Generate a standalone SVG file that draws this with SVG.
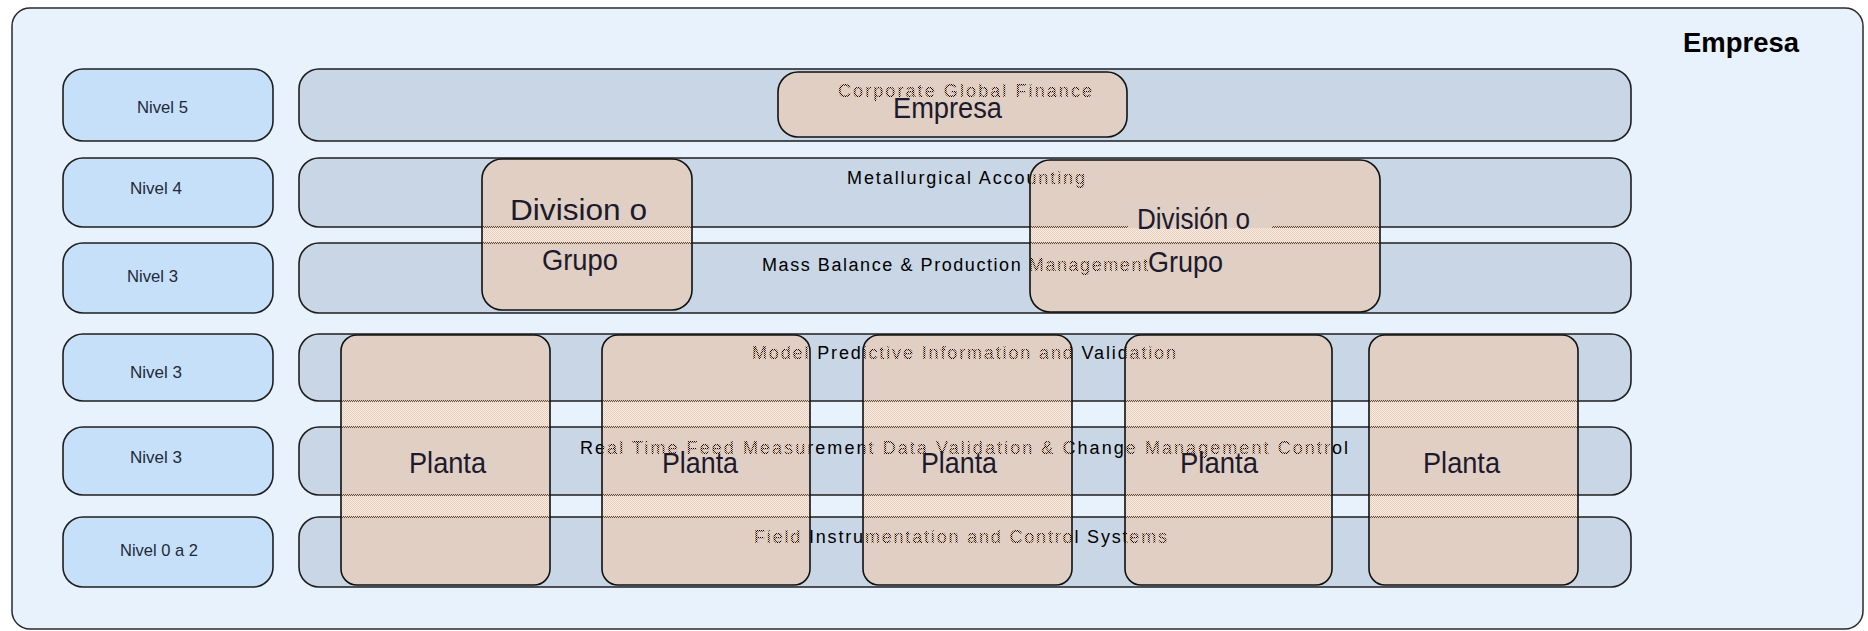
<svg xmlns="http://www.w3.org/2000/svg" width="1868" height="631" viewBox="0 0 1868 631">
  <defs>
    <!-- half-tone fill: peach on every other pixel, whatever lies below shows through the rest -->
    <pattern id="dither" width="2" height="2" patternUnits="userSpaceOnUse">
      <rect x="0" y="0" width="1" height="1" fill="#f8c8a2"/>
      <rect x="1" y="1" width="1" height="1" fill="#f8c8a2"/>
    </pattern>
  </defs>
  <style>
    .frame{fill:#e8f2fc;stroke:#2a2a2a;stroke-width:1.5}
    .nivel{fill:#c6e0fa;stroke:#1e1e1e;stroke-width:1.6}
    .band{fill:#c8d6e5;stroke:#1e1e1e;stroke-width:1.6}
    .unit{fill:url(#dither);stroke:#111;stroke-width:1.6}
    .nt{font-family:"Liberation Sans",Arial,sans-serif;font-size:17px;fill:#1f2a38}
    .bt{font-family:"Liberation Sans",Arial,sans-serif;font-size:18px;fill:#000}
    .ut{font-family:"Liberation Sans",Arial,sans-serif;font-size:30px;fill:#1c1a2c}
    .title{font-family:"Liberation Sans",Arial,sans-serif;font-size:28px;font-weight:bold;fill:#000}
  </style>

  <rect x="0" y="0" width="1868" height="631" fill="#ffffff"/>

  <!-- enterprise frame -->
  <g id="empresa-frame">
    <rect class="frame" x="12" y="8" width="1851" height="621" rx="18"/>
    <text class="title" x="1683" y="52" textLength="116" lengthAdjust="spacingAndGlyphs">Empresa</text>
  </g>

  <!-- level labels -->
  <g id="nivel-5">
    <rect class="nivel" x="63" y="69" width="210" height="72" rx="20"/>
    <text class="nt" x="137" y="113" textLength="51" lengthAdjust="spacingAndGlyphs">Nivel 5</text>
  </g>
  <g id="nivel-4">
    <rect class="nivel" x="63" y="158" width="210" height="69" rx="20"/>
    <text class="nt" x="130" y="194" textLength="52" lengthAdjust="spacingAndGlyphs">Nivel 4</text>
  </g>
  <g id="nivel-3a">
    <rect class="nivel" x="63" y="243" width="210" height="70" rx="20"/>
    <text class="nt" x="127" y="282" textLength="51" lengthAdjust="spacingAndGlyphs">Nivel 3</text>
  </g>
  <g id="nivel-3b">
    <rect class="nivel" x="63" y="334" width="210" height="67" rx="20"/>
    <text class="nt" x="130" y="378" textLength="52" lengthAdjust="spacingAndGlyphs">Nivel 3</text>
  </g>
  <g id="nivel-3c">
    <rect class="nivel" x="63" y="427" width="210" height="68" rx="20"/>
    <text class="nt" x="130" y="463" textLength="52" lengthAdjust="spacingAndGlyphs">Nivel 3</text>
  </g>
  <g id="nivel-0-2">
    <rect class="nivel" x="63" y="517" width="210" height="70" rx="20"/>
    <text class="nt" x="120" y="556" textLength="78" lengthAdjust="spacingAndGlyphs">Nivel 0 a 2</text>
  </g>

  <!-- function bands -->
  <g id="band-finance">
    <rect class="band" x="299" y="69" width="1332" height="72" rx="20"/>
    <text class="bt" x="838" y="97" textLength="254" lengthAdjust="spacing">Corporate Global Finance</text>
  </g>
  <g id="band-accounting">
    <rect class="band" x="299" y="158" width="1332" height="69" rx="20"/>
    <text class="bt" x="847" y="184" textLength="238" lengthAdjust="spacing">Metallurgical Accounting</text>
  </g>
  <g id="band-mass-balance">
    <rect class="band" x="299" y="243" width="1332" height="70" rx="20"/>
    <text class="bt" x="762" y="271" textLength="386" lengthAdjust="spacing">Mass Balance &amp; Production Management</text>
  </g>
  <g id="band-model">
    <rect class="band" x="299" y="334" width="1332" height="67" rx="20"/>
    <text class="bt" x="752" y="359" textLength="424" lengthAdjust="spacing">Model Predictive Information and Validation</text>
  </g>
  <g id="band-realtime">
    <rect class="band" x="299" y="427" width="1332" height="68" rx="20"/>
    <text class="bt" x="580" y="454" textLength="768" lengthAdjust="spacing">Real Time Feed Measurement Data Validation &amp; Change Management Control</text>
  </g>
  <g id="band-field">
    <rect class="band" x="299" y="517" width="1332" height="70" rx="20"/>
    <text class="bt" x="754" y="543" textLength="413" lengthAdjust="spacing">Field Instrumentation and Control Systems</text>
  </g>

  <!-- organisational units laid over the bands -->
  <g id="unit-empresa">
    <rect class="unit" x="778" y="72" width="349" height="65" rx="20"/>
    <text class="ut" x="893" y="118" textLength="109" lengthAdjust="spacingAndGlyphs">Empresa</text>
  </g>
  <g id="unit-division-1">
    <rect class="unit" x="482" y="159" width="210" height="151" rx="20"/>
    <text class="ut" x="510" y="220" textLength="137" lengthAdjust="spacingAndGlyphs">Division o</text>
    <text class="ut" x="542" y="270" textLength="76" lengthAdjust="spacingAndGlyphs">Grupo</text>
  </g>
  <g id="unit-division-2">
    <rect class="unit" x="1030" y="160" width="350" height="152" rx="20"/>
    <rect x="1128" y="197" width="144" height="31" fill="#e0cfc4"/>
    <text class="ut" x="1137" y="229" textLength="113" lengthAdjust="spacingAndGlyphs">División o</text>
    <text class="ut" x="1148" y="272" textLength="75" lengthAdjust="spacingAndGlyphs">Grupo</text>
  </g>
  <g id="unit-planta-1">
    <rect class="unit" x="341" y="335" width="209" height="250" rx="16"/>
    <text class="ut" x="409" y="473" textLength="77" lengthAdjust="spacingAndGlyphs">Planta</text>
  </g>
  <g id="unit-planta-2">
    <rect class="unit" x="602" y="335" width="208" height="250" rx="16"/>
    <text class="ut" x="662" y="473" textLength="76" lengthAdjust="spacingAndGlyphs">Planta</text>
  </g>
  <g id="unit-planta-3">
    <rect class="unit" x="863" y="335" width="209" height="250" rx="16"/>
    <text class="ut" x="921" y="473" textLength="76" lengthAdjust="spacingAndGlyphs">Planta</text>
  </g>
  <g id="unit-planta-4">
    <rect class="unit" x="1125" y="335" width="207" height="250" rx="16"/>
    <text class="ut" x="1180" y="473" textLength="78" lengthAdjust="spacingAndGlyphs">Planta</text>
  </g>
  <g id="unit-planta-5">
    <rect class="unit" x="1369" y="335" width="209" height="250" rx="16"/>
    <text class="ut" x="1423" y="473" textLength="77" lengthAdjust="spacingAndGlyphs">Planta</text>
  </g>

  <!-- no connectors in this layout -->
  <g id="connectors"/>
</svg>
